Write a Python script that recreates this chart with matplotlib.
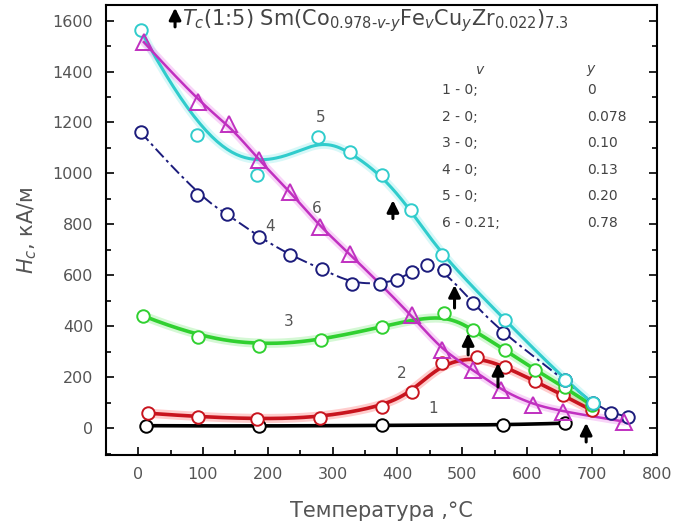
import numpy as np
import matplotlib
matplotlib.use("Agg")
import matplotlib.pyplot as plt
from matplotlib.ticker import MultipleLocator

plt.rcParams["font.family"] = ["DejaVu Sans"]
plt.rcParams["mathtext.fontset"] = "dejavusans"

# temperature (°C) and coercivity H_c (kA/m) for the six alloys
t1 = [12, 186, 376, 563, 658]
h1 = [10, 8, 12, 12, 20]

t2 = [15, 93, 183, 281, 376, 422, 468, 522, 566, 612, 655, 700]
h2 = [59, 45, 35, 42, 85, 142, 255, 281, 241, 185, 130, 70]

t3 = [8, 92, 187, 282, 376, 471, 517, 566, 612, 658, 700]
h3 = [441, 357, 322, 346, 398, 453, 385, 307, 229, 160, 90]

t4 = [4, 91, 137, 186, 235, 283, 330, 373, 399, 422, 445, 471, 517, 563, 658,
      701, 730, 755]
h4 = [1162, 914, 842, 751, 679, 625, 568, 568, 581, 614, 640, 620, 490, 372,
      189, 98, 59, 45]

t5 = [4, 91, 183, 278, 327, 376, 421, 468, 566, 658, 701]
h5 = [1561, 1149, 992, 1143, 1084, 992, 855, 679, 424, 190, 98]

t6 = [9, 93, 140, 186, 235, 281, 327, 422, 468, 517, 560, 609, 655, 750]
h6 = [1515, 1280, 1195, 1051, 927, 790, 683, 444, 307, 228, 150, 91, 65, 26]

# Curie temperature arrows: x, bottom, top
tc_x = [393, 488, 509, 555, 691]
tc_lo = [823, 472, 288, 162, -54]
tc_hi = [895, 562, 373, 256, 21]

# composition table
rows_v = ["1 - 0;", "2 - 0;", "3 - 0;", "4 - 0;", "5 - 0;", "6 - 0.21;"]
rows_y = ["0", "0.078", "0.10", "0.13", "0.20", "0.78"]


def bspline(x, y, n=300):
    # clamped uniform cubic B-spline with the points as control points
    P = np.column_stack([x, y]).astype(float)
    m = len(P)
    k = 3
    knots = np.concatenate([np.zeros(k), np.arange(m - k + 1),
                            np.full(k, m - k)]).astype(float)
    ts = np.linspace(0, m - k, n)
    out = []
    for t in ts:
        s = min(int(np.searchsorted(knots, t, side="right")) - 1, m - 1)
        d = [P[j + s - k].copy() for j in range(k + 1)]
        for r in range(1, k + 1):
            for j in range(k, r - 1, -1):
                i = j + s - k
                den = knots[i + k + 1 - r] - knots[i]
                a = 0.0 if den == 0 else (t - knots[i]) / den
                d[j] = (1 - a) * d[j - 1] + a * d[j]
        out.append(d[k])
    out = np.array(out)
    return out[:, 0], out[:, 1]


fig = plt.figure(figsize=(6.73, 5.26), dpi=100)
ax = fig.add_axes([0.157, 0.135, 0.819, 0.855])

series = [
    (t1, h1, "black", "o", "-", 2.6, None),
    (t2, h2, "#c8141e", "o", "-", 2.6, "#ff9090"),
    (t3, h3, "#30d030", "o", "-", 2.6, "#a0f0a0"),
    (t4, h4, "#1c1c7c", "o", (0, (6, 2, 1.5, 2)), 1.4, None),
    (t5, h5, "#30cccc", "o", "-", 2.2, "#a8f0f0"),
    (t6, h6, "#c030c0", "^", "-", 1.8, "#f0a0f0"),
]
for t, h, c, mk, ls, lw, glow in series:
    xs, ys = bspline(t, h) if len(t) > 4 else (np.array(t), np.array(h))
    if glow:
        ax.plot(xs, ys, color=glow, lw=lw + 4, alpha=0.45, zorder=2,
                solid_capstyle="round")
    ax.plot(xs, ys, color=c, lw=lw, ls=ls, zorder=3)
    if mk == "o":
        ax.plot(t, h, ls="none", marker="o", ms=9, mfc="white", mec=c,
                mew=1.4, zorder=4)
    else:
        ax.plot(t, h, ls="none", marker="^", ms=11, mfc="none", mec=c,
                mew=1.4, zorder=4)

arrow = dict(arrowstyle="-|>,head_width=0.35,head_length=0.7",
             color="black", lw=2.2, shrinkA=0, shrinkB=0)
for x, lo, hi in zip(tc_x, tc_lo, tc_hi):
    ax.annotate("", xy=(x, hi), xytext=(x, lo), zorder=6, arrowprops=arrow)
ax.annotate("", xy=(57, 1650), xytext=(57, 1575), zorder=6, arrowprops=arrow)

txt = "#444444"
ax.text(68, 1580,
        r"$T_c$(1:5) Sm(Co$_{0.978\text{-}v\text{-}y}$Fe$_v$Cu$_y$"
        r"Zr$_{0.022}$)$_{7.3}$",
        fontsize=15, color=txt, va="baseline", ha="left")

for lab, x, y in [("1", 455, 78), ("2", 406, 215), ("3", 233, 418),
                  ("4", 204, 790), ("5", 281, 1221), ("6", 276, 862)]:
    ax.text(x, y, lab, fontsize=11, color="#555555", ha="center", va="center")

ax.text(527, 1404, "$v$", fontsize=10, color=txt, ha="center", va="center")
ax.text(699, 1404, "$y$", fontsize=10, color=txt, ha="center", va="center")
for i, (a, b) in enumerate(zip(rows_v, rows_y)):
    yy = 1326 - i * 104
    ax.text(468, yy, a, fontsize=10, color=txt, ha="left", va="center")
    ax.text(693, yy, b, fontsize=10, color=txt, ha="left", va="center")

ax.set_xlim(-50, 800)
ax.set_ylim(-105, 1660)
ax.xaxis.set_major_locator(MultipleLocator(100))
ax.xaxis.set_minor_locator(MultipleLocator(50))
ax.yaxis.set_major_locator(MultipleLocator(200))
ax.yaxis.set_minor_locator(MultipleLocator(100))
ax.tick_params(which="both", direction="in", right=True, top=False,
               width=1.2, colors="black", labelcolor="#555555", labelsize=11.5,
               pad=9)
ax.tick_params(which="major", length=6)
ax.tick_params(which="minor", length=3.5)
for sp in ax.spines.values():
    sp.set_linewidth(1.5)

ax.set_xlabel("Температура ,°C", fontsize=15, color="#555555", labelpad=13)
ax.set_ylabel(r"$H_c$, кА/м", fontsize=15, color="#555555", labelpad=10)

fig.savefig("out.png", dpi=100)
